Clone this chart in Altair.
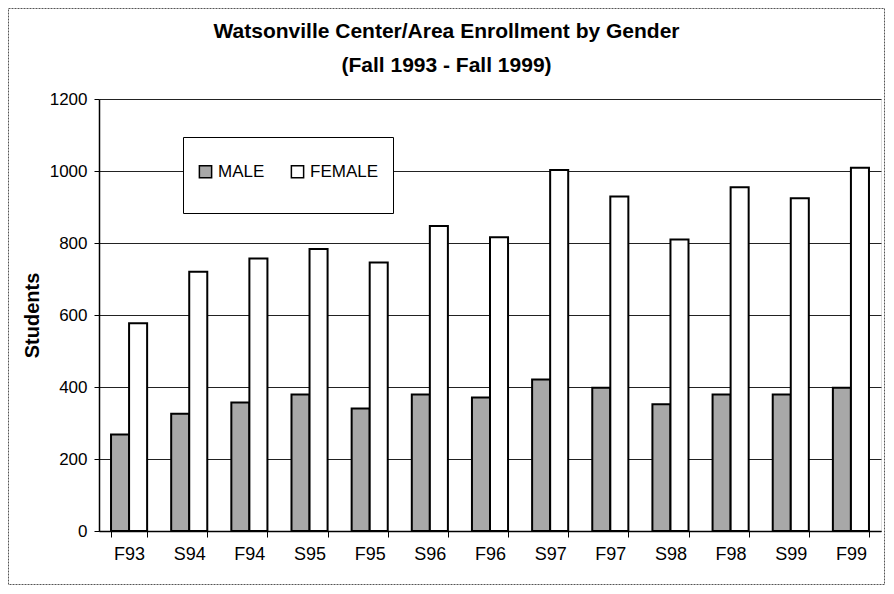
import altair as alt
import pandas as pd

terms = ["F93", "S94", "F94", "S95", "F95", "S96", "F96", "S97", "F97", "S98", "F98", "S99", "F99"]
male = [268, 326, 357, 379, 340, 379, 371, 421, 398, 352, 379, 379, 398]
female = [577, 720, 757, 783, 746, 847, 816, 1003, 929, 810, 955, 924, 1009]
genders = ["MALE", "FEMALE"]
y_ticks = [0, 200, 400, 600, 800, 1000, 1200]

rows = []
for t, m, f in zip(terms, male, female):
    rows.append({"term": t, "gender": "MALE", "students": m})
    rows.append({"term": t, "gender": "FEMALE", "students": f})
df = pd.DataFrame(rows)

FONT = "Liberation Sans"
W, H = 782, 432

bars = alt.Chart(df).mark_bar(stroke="black", strokeWidth=2, opacity=1).encode(
    x=alt.X("term:N", sort=terms,
            scale=alt.Scale(paddingInner=0.4, paddingOuter=0.2),
            axis=alt.Axis(title=None, labelAngle=0, tickBand="extent", tickSize=6,
                          labelPadding=8, labelFontSize=18, labelFont=FONT,
                          labelColor="black", domainColor="black", tickColor="black",
                          domainWidth=1.5)),
    xOffset=alt.XOffset("gender:N", sort=genders,
                        scale=alt.Scale(paddingInner=0, paddingOuter=0)),
    y=alt.Y("students:Q", scale=alt.Scale(domain=[0, 1200]),
            axis=alt.Axis(values=y_ticks, format="d", title="Students", titleFont=FONT,
                          titleFontSize=20, titleFontWeight="bold", titleColor="black",
                          titlePadding=7, labelFontSize=17, labelFont=FONT,
                          labelColor="black", tickSize=5, labelPadding=7,
                          grid=True, gridColor="#222", gridWidth=1,
                          domainColor="black", tickColor="black", domainWidth=1.5)),
    fill=alt.Fill("gender:N", sort=genders,
                  scale=alt.Scale(domain=genders, range=["#a8a8a8", "#ffffff"]),
                  legend=alt.Legend(title=" ", titleFontSize=12, titlePadding=0,
                                    orient="none", legendX=84, legendY=38,
                                    direction="horizontal", symbolType="square",
                                    symbolSize=150, symbolStrokeColor="black",
                                    symbolStrokeWidth=1.5, symbolOpacity=1,
                                    labelFontSize=17, labelFont=FONT, labelColor="black",
                                    labelExpr="[datum.label, '']",
                                    columnPadding=23, padding=14, fillColor="white",
                                    strokeColor="black")),
)

frame = alt.Chart(pd.DataFrame({"a": [0]})).mark_rect(
    fill="white", fillOpacity=0, stroke="#555", strokeWidth=1, strokeDash=[2, 1]
).encode(
    x=alt.value(-90.5), x2=alt.value(W + 3.5),
    y=alt.value(-90.5), y2=alt.value(H + 53.5),
)

chart = alt.layer(frame, bars).properties(
    width=W, height=H,
    autosize=alt.AutoSizeParams(type="none"),
    padding={"left": 91, "top": 91, "right": 4, "bottom": 54},
    title=alt.Title(["Watsonville Center/Area Enrollment by Gender", "(Fall 1993 - Fall 1999)"],
                    font=FONT, fontSize=21, fontWeight="bold", color="black",
                    anchor="middle", frame="bounds", lineHeight=34, offset=0, dy=68),
).configure_view(stroke="black", strokeWidth=1.5).configure(background="white")

chart.save("out.html", embed_options={"renderer": "svg", "actions": False})
